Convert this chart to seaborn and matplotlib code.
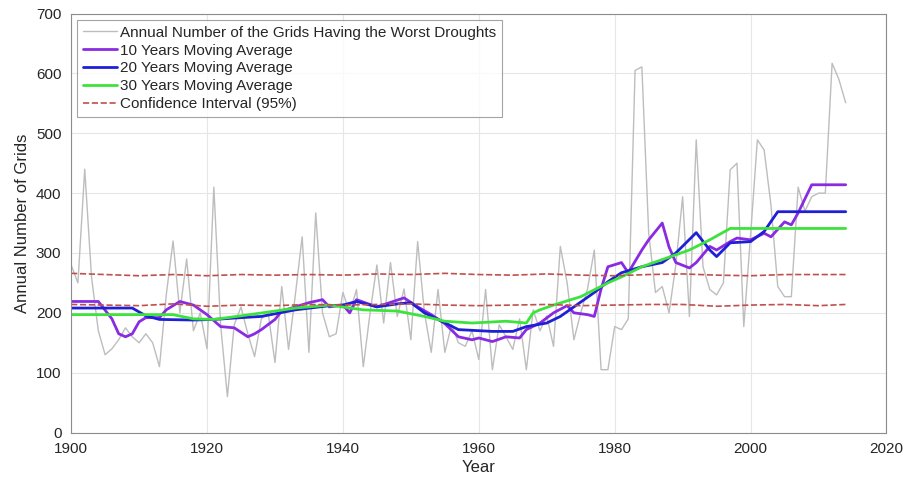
import numpy as np
import pandas as pd
import matplotlib
matplotlib.use("Agg")
import matplotlib.pyplot as plt
import seaborn as sns

# annual number of grids with the worst droughts, 1900-2014
years = list(range(1900, 2015))
annual = [280, 250, 440, 260, 170, 130, 140, 155, 175, 160,
          150, 165, 150, 110, 230, 320, 200, 290, 170, 200,
          140, 410, 180, 60, 180, 210, 165, 127, 190, 200,
          117, 244, 139, 230, 327, 134, 367, 200, 160, 165,
          234, 200, 239, 110, 200, 280, 183, 284, 194, 240,
          155, 319, 200, 134, 239, 134, 180, 150, 144, 170,
          122, 239, 105, 180, 160, 139, 190, 105, 205, 170,
          195, 144, 311, 250, 155, 200, 240, 305, 105, 105,
          177, 172, 190, 605, 611, 334, 234, 244, 200, 280,
          394, 194, 489, 277, 239, 230, 250, 439, 450, 177,
          330, 489, 472, 380, 244, 227, 227, 410, 370, 394,
          400, 400, 617, 590, 551]

ma10_years = [1900, 1904, 1906, 1907, 1908, 1909, 1910, 1911, 1913, 1914, 1916, 1918,
              1920, 1922, 1924, 1926, 1927, 1928, 1930, 1931, 1933, 1935, 1937, 1938,
              1940, 1941, 1942, 1945, 1949, 1951, 1953, 1955, 1957, 1959, 1960, 1962,
              1964, 1966, 1967, 1969, 1971, 1973, 1974, 1976, 1977, 1978, 1979, 1981,
              1982, 1984, 1985, 1987, 1988, 1989, 1991, 1992, 1994, 1995, 1997, 1998,
              2000, 2002, 2003, 2005, 2006, 2007, 2009, 2014]
ma10 = [219, 219, 190, 165, 160, 165, 185, 192, 192, 205, 219, 213,
        197, 177, 175, 160, 165, 172, 189, 203, 210, 217, 222, 210,
        213, 200, 222, 210, 225, 210, 197, 182, 160, 155, 158, 152,
        160, 158, 172, 183, 200, 212, 200, 197, 194, 240, 277, 284,
        267, 305, 322, 350, 310, 284, 275, 284, 311, 305, 319, 325,
        322, 333, 327, 352, 347, 367, 414, 414]

ma20_years = [1900, 1909, 1911, 1913, 1918, 1921, 1925, 1928, 1933, 1938, 1940, 1942,
              1945, 1948, 1950, 1952, 1954, 1957, 1962, 1965, 1967, 1970, 1972, 1974,
              1977, 1979, 1981, 1984, 1987, 1989, 1992, 1994, 1995, 1997, 2000, 2002,
              2004, 2014]
ma20 = [208, 208, 195, 189, 188, 189, 192, 194, 205, 212, 213, 219,
        210, 215, 217, 200, 189, 172, 169, 169, 177, 183, 194, 210,
        234, 252, 267, 277, 284, 300, 334, 305, 294, 317, 319, 336,
        369, 369]

ma30_years = [1900, 1915, 1918, 1921, 1925, 1930, 1933, 1938, 1943, 1948, 1952, 1955,
              1959, 1964, 1967, 1968, 1969, 1971, 1975, 1979, 1981, 1984, 1987, 1991,
              1994, 1997, 2014]
ma30 = [197, 197, 190, 189, 195, 203, 208, 213, 205, 203, 194, 186,
        183, 186, 183, 200, 205, 213, 227, 250, 260, 277, 289, 305,
        322, 341, 341]

ci_years = [1900, 1905, 1910, 1915, 1920, 1925, 1930, 1935, 1940, 1945, 1950, 1955,
            1960, 1965, 1970, 1975, 1980, 1985, 1990, 1995, 2000, 2005, 2010, 2014]
ci_upper = [266, 264, 262, 264, 262, 264, 263, 264, 263, 265, 264, 266,
            264, 263, 265, 263, 262, 264, 265, 263, 262, 264, 264, 264]
ci_lower = [214, 213, 212, 215, 211, 213, 212, 214, 213, 214, 215, 213,
            212, 213, 214, 212, 213, 214, 214, 211, 213, 214, 212, 214]

sns.set_style("whitegrid")
plt.rcParams['font.family'] = ['Liberation Sans', 'DejaVu Sans']

fig, ax = plt.subplots(figsize=(9.12, 4.86), dpi=100)
fig.subplots_adjust(left=0.078, right=0.972, top=0.972, bottom=0.11)

RED = "#c0504d"
sns.lineplot(x=years, y=annual, ax=ax, color="#bdbdbd", lw=1.0,
             label="Annual Number of the Grids Having the Worst Droughts")
sns.lineplot(x=ma10_years, y=ma10, ax=ax, color="#8a2be2", lw=2.0,
             label="10 Years Moving Average")
sns.lineplot(x=ma20_years, y=ma20, ax=ax, color="#1f1fd6", lw=2.0,
             label="20 Years Moving Average")
sns.lineplot(x=ma30_years, y=ma30, ax=ax, color="#3de33d", lw=2.0,
             label="30 Years Moving Average")
sns.lineplot(x=ci_years, y=ci_upper, ax=ax, color=RED, lw=1.2, ls="--",
             label="Confidence Interval (95%)")
sns.lineplot(x=ci_years, y=ci_lower, ax=ax, color=RED, lw=1.2, ls="--")

ax.set_xlim(1900, 2020)
ax.set_ylim(0, 700)
ax.set_xticks(range(1900, 2021, 20))
ax.set_yticks(range(0, 701, 100))
ax.tick_params(direction="in", labelsize=11, colors="#262626", length=4)
ax.tick_params(axis="x", pad=7)
ax.tick_params(axis="y", pad=7)
ax.grid(True, color="#e6e6e6", lw=0.8)
for s in ax.spines.values():
    s.set_color("#8c8c8c")
    s.set_linewidth(0.8)

ax.set_xlabel("Year", fontsize=12, color="#262626", labelpad=3)
ax.set_ylabel("Annual Number of Grids", fontsize=12, color="#262626", labelpad=4)

leg = ax.legend(loc="upper left", fontsize=11, frameon=True, fancybox=False,
                borderpad=0.4, labelspacing=0.25, handlelength=2.2,
                handletextpad=0.2, borderaxespad=0.4)
leg.get_frame().set_edgecolor("#8c8c8c")
leg.get_frame().set_linewidth(0.8)

plt.savefig("out.png", dpi=100)
